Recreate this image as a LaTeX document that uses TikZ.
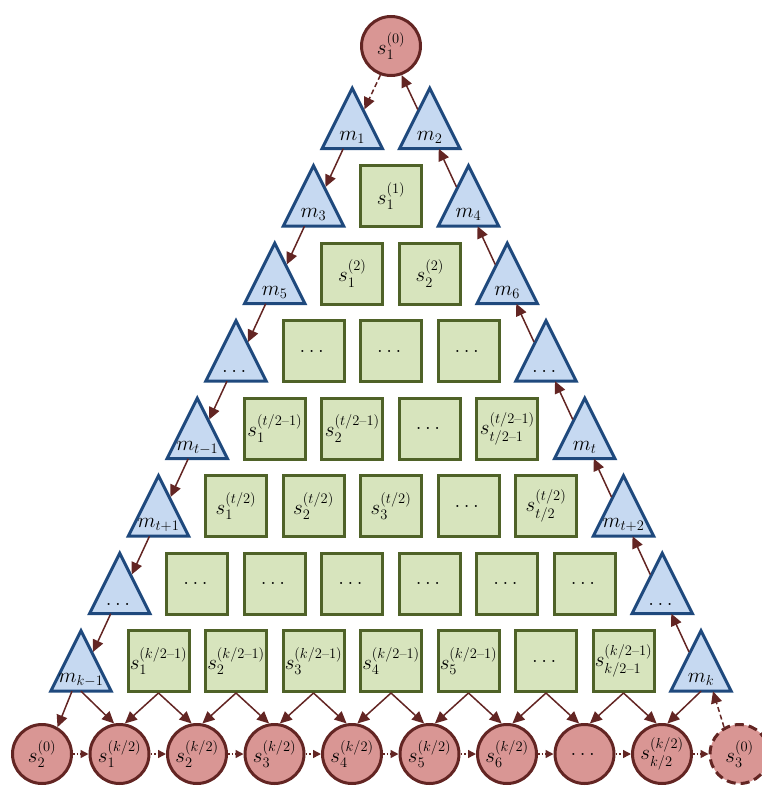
\RequirePackage{fix-cm}
\documentclass[tikz,border=0pt]{standalone}
\usepackage{amsmath}
\usetikzlibrary{arrows.meta,backgrounds}
\DeclareMathSizes{21}{21}{14.5}{10}
\definecolor{cfill}{HTML}{D99694}
\definecolor{cline}{HTML}{632523}
\definecolor{tfill}{HTML}{C6D9F1}
\definecolor{tline}{HTML}{1F497D}
\definecolor{sfill}{HTML}{D7E4BD}
\definecolor{sline}{HTML}{4F6228}
\newcommand{\md}{\text{--}}
\begin{document}
\begin{tikzpicture}[x=1pt,y=-1pt,
  every node/.style={font=\fontsize{21}{25}\selectfont},
  circ/.style={circle,draw=cline,fill=cfill,line width=3pt,minimum size=59pt,inner sep=0pt},
  sqbox/.style={rectangle,draw=sline,fill=sfill,line width=3pt,minimum size=61pt,inner sep=0pt},
  tribox/.style={rectangle,minimum width=60pt,minimum height=60pt,inner sep=0pt,text height=43pt,text depth=0pt},
  tripath/.style={draw=tline,fill=tfill,line width=3pt},
  arr/.style={draw=cline,line width=1.5pt,-{Triangle[length=12pt,width=11pt]}},
  dasharr/.style={arr,dash pattern=on 5pt off 3pt},
  dotarr/.style={draw=cline,line width=1.5pt,dash pattern=on 1.5pt off 2pt,-{Triangle[length=8pt,width=8pt]}},
]
\useasboundingbox (0,0) rectangle (761,787);

% top circle
\node[circ] (top) at (391,46) {$s_1^{(0)}$};

% triangles, left chain
\foreach \lab [count=\i from 0] in {m_1,m_3,m_5,\dots,m_{t-1},m_{t+1},\dots,m_{k-1}} {
  \node[tribox] (L\i) at ({391-38.75*(\i+1)},{118.5+77.5*\i}) {$\lab$};
  \begin{scope}[on background layer]
    \path[tripath] (L\i.north) -- (L\i.south east) -- (L\i.south west) -- cycle;
  \end{scope}
}
% triangles, right chain
\foreach \lab [count=\i from 0] in {m_2,m_4,m_6,\dots,m_t,m_{t+2},\dots,m_k} {
  \node[tribox] (R\i) at ({391+38.75*(\i+1)},{118.5+77.5*\i}) {$\lab$};
  \begin{scope}[on background layer]
    \path[tripath] (R\i.north) -- (R\i.south east) -- (R\i.south west) -- cycle;
  \end{scope}
}

% squares
\foreach \lab [count=\j from 0] in {s_1^{(1)}}
  \node[sqbox] (S1-\j) at ({391+77.5*\j},196) {$\lab$};
\foreach \lab [count=\j from 0] in {s_1^{(2)},s_2^{(2)}}
  \node[sqbox] (S2-\j) at ({352.25+77.5*\j},273.5) {$\lab$};
\foreach \lab [count=\j from 0] in {\dots,\dots,\dots}
  \node[sqbox] (S3-\j) at ({313.5+77.5*\j},351) {$\lab$};
\foreach \lab [count=\j from 0] in {s_1^{(t/2\md1)},s_2^{(t/2\md1)},\dots,s_{t/2\md1}^{(t/2\md1)}}
  \node[sqbox] (S4-\j) at ({274.75+77.5*\j},428.5) {$\lab$};
\foreach \lab [count=\j from 0] in {s_1^{(t/2)},s_2^{(t/2)},s_3^{(t/2)},\dots,s_{t/2}^{(t/2)}}
  \node[sqbox] (S5-\j) at ({236+77.5*\j},506) {$\lab$};
\foreach \lab [count=\j from 0] in {\dots,\dots,\dots,\dots,\dots,\dots}
  \node[sqbox] (S6-\j) at ({197.25+77.5*\j},583.5) {$\lab$};
\foreach \lab [count=\j from 0] in {s_1^{(k/2\md1)},s_2^{(k/2\md1)},s_3^{(k/2\md1)},s_4^{(k/2\md1)},s_5^{(k/2\md1)},\dots,s_{k/2\md1}^{(k/2\md1)}}
  \node[sqbox] (S7-\j) at ({158.5+77.5*\j},661) {$\lab$};

% bottom circles
\foreach \lab [count=\i from 0] in {s_2^{(0)},s_1^{(k/2)},s_2^{(k/2)},s_3^{(k/2)},s_4^{(k/2)},s_5^{(k/2)},s_6^{(k/2)},\dots,s_{k/2}^{(k/2)}}
  \node[circ] (C\i) at ({42+77.5*\i},754) {$\lab$};
\node[circ,dash pattern=on 9pt off 5pt] (C9) at (739.5,754) {$s_3^{(0)}$};

% left chain arrows
\draw[dasharr] (top.250) -- ([shift={(12,-9)}]L0.center);
\foreach \i/\n in {0/1,1/2,2/3,3/4,4/5,5/6,6/7}
  \draw[arr] ([xshift=-9pt]L\i.south) -- ([shift={(12,-9)}]L\n.center);
% right chain arrows
\foreach \i/\n in {0/1,1/2,2/3,3/4,4/5,5/6,6/7}
  \draw[arr] ([shift={(-12,-9)}]R\n.center) -- ([xshift=9pt]R\i.south);
\draw[arr] ([shift={(-12,-9)}]R0.center) -- (top.290);

% bottom arrows
\draw[arr] ([xshift=-9pt]L7.south) -- (C0.60);
\draw[arr] (L7.south) -- (C1.100);
\foreach \j/\a/\b in {0/1/2,1/2/3,2/3/4,3/4/5,4/5/6,5/6/7,6/7/8} {
  \draw[arr] (S7-\j.south) -- (C\a.80);
  \draw[arr] (S7-\j.south) -- (C\b.100);
}
\draw[arr] (R7.south) -- (C8.80);
\draw[dasharr] (C9.120) -- ([xshift=12pt]R7.south);
\foreach \i/\n in {0/1,1/2,2/3,3/4,4/5,5/6,6/7,7/8,8/9}
  \draw[dotarr] (C\i.east) -- (C\n.west);
\end{tikzpicture}
\end{document}
